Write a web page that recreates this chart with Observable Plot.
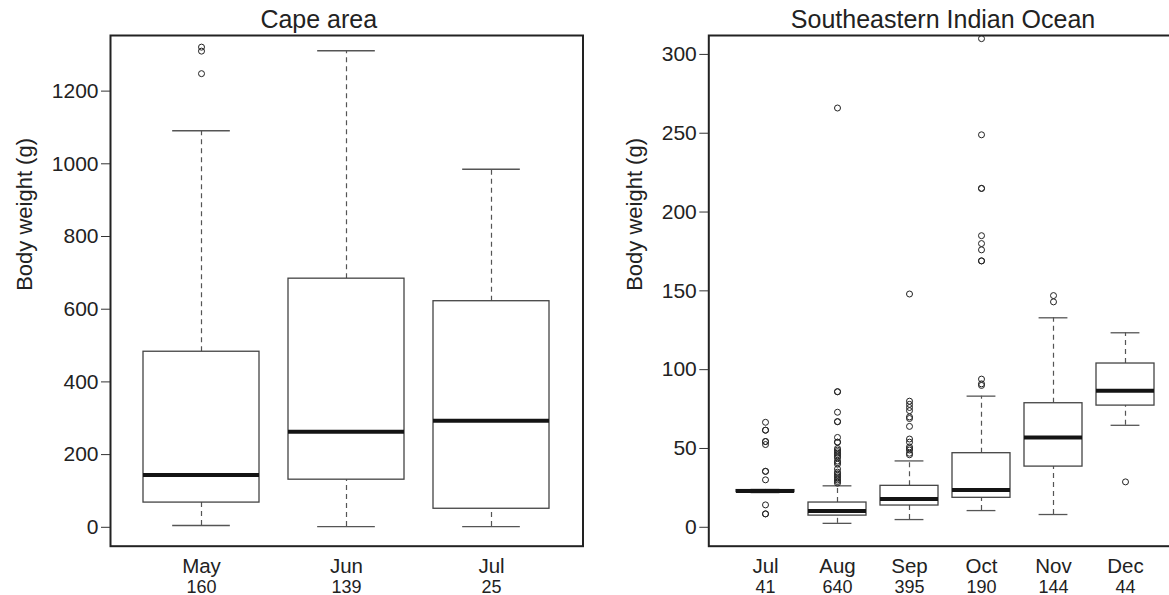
<!DOCTYPE html>
<html><head><meta charset="utf-8">
<script src="https://cdn.jsdelivr.net/npm/d3@7"></script>
<script src="https://cdn.jsdelivr.net/npm/@observablehq/plot@0.6"></script>
<style>
html,body{margin:0;padding:0;background:#fff;overflow:hidden;}
#wrap{position:relative;width:1169px;height:595px;overflow:hidden;background:#fff;}
#left,#right{position:absolute;top:0;height:595px;}
#left{left:0;width:636px;}
#right{left:590px;width:606px;}
#wrap svg{max-width:none !important;display:block;}
</style></head><body>
<div id="wrap"><div id="left"></div><div id="right"></div></div>
<script>
// ---- Cape area ----
const capeMonths = ["May", "Jun", "Jul"];
const capeCounts = [160, 139, 25];
const capeLow = [5, 2, 2];
const capeQ1 = [68, 131, 51];
const capeMedian = [144, 263, 293];
const capeQ3 = [483, 684, 622];
const capeHigh = [1091, 1311, 985];
const capeOutliers = [["May", 1321], ["May", 1310], ["May", 1248]];
const capeTicks = [0, 200, 400, 600, 800, 1000, 1200];

// ---- Southeastern Indian Ocean ----
const seMonths = ["Jul", "Aug", "Sep", "Oct", "Nov", "Dec"];
const seCounts = [41, 640, 395, 190, 144, 44];
const seLow = [22, 2.5, 4.9, 10.6, 8.1, 64.7];
const seQ1 = [22.3, 7.4, 13.8, 18.7, 38.5, 77.2];
const seMedian = [23, 10.4, 18, 23.7, 56.9, 86.6];
const seQ3 = [23.6, 15.7, 26.3, 47, 78.7, 103.9];
const seHigh = [24, 26.3, 42.1, 83.2, 132.9, 123.4];
const seOutliers = [
  ["Jul", 66.6], ["Jul", 61.6], ["Jul", 61.6], ["Jul", 54.4], ["Jul", 54.4], ["Jul", 52.5],
  ["Jul", 35.5], ["Jul", 35.5], ["Jul", 30.1], ["Jul", 14.2], ["Jul", 8.5], ["Jul", 8.5],
  ["Aug", 266], ["Aug", 86], ["Aug", 86], ["Aug", 73], ["Aug", 67], ["Aug", 67], ["Aug", 57],
  ["Aug", 54], ["Aug", 54], ["Aug", 50], ["Aug", 49], ["Aug", 48], ["Aug", 47], ["Aug", 46],
  ["Aug", 45], ["Aug", 44], ["Aug", 42], ["Aug", 41], ["Aug", 40], ["Aug", 37], ["Aug", 35],
  ["Aug", 34], ["Aug", 33], ["Aug", 32], ["Aug", 31], ["Aug", 30], ["Aug", 29], ["Aug", 28],
  ["Sep", 148], ["Sep", 80], ["Sep", 78], ["Sep", 76], ["Sep", 74], ["Sep", 70], ["Sep", 69],
  ["Sep", 64], ["Sep", 56], ["Sep", 54], ["Sep", 51], ["Sep", 50], ["Sep", 49], ["Sep", 47], ["Sep", 46],
  ["Oct", 310], ["Oct", 249], ["Oct", 215], ["Oct", 215], ["Oct", 185], ["Oct", 180], ["Oct", 176],
  ["Oct", 169], ["Oct", 169], ["Oct", 94], ["Oct", 91], ["Oct", 90],
  ["Nov", 147], ["Nov", 143],
  ["Dec", 28.8]
];
const seTicks = [0, 50, 100, 150, 200, 250, 300];

const yLabel = "Body weight (g)";
const FONT = "'Liberation Sans', Arial, Helvetica, sans-serif";

function panel(o) {
  const rows = o.months.map((m, i) => ({
    month: m, n: o.counts[i], low: o.low[i], q1: o.q1[i],
    median: o.median[i], q3: o.q3[i], high: o.high[i]
  }));
  const pts = o.outliers.map(([month, value]) => ({month, value}));
  const innerW = o.width - o.marginLeft - o.marginRight;
  const step = innerW / (o.months.length - 0.2 + 2 * o.paddingOuter);
  const staple = step * 0.8 / 4;
  const whisk = {stroke: "#555", strokeWidth: 1.2, strokeDasharray: "5,4"};
  const cap = {stroke: "#555", strokeWidth: 1.3, insetLeft: staple, insetRight: staple};
  return Plot.plot({
    width: o.width,
    height: 595,
    marginTop: 35,
    marginBottom: 49.3,
    marginLeft: o.marginLeft,
    marginRight: o.marginRight,
    style: {fontFamily: FONT, color: "#222", background: "transparent", maxWidth: "none", overflow: "visible"},
    x: {type: "band", domain: o.months, paddingInner: 0.2, paddingOuter: o.paddingOuter},
    y: {domain: o.yDomain},
    marks: [
      Plot.ruleX(rows, {x: "month", y1: "q3", y2: "high", ...whisk}),
      Plot.ruleX(rows, {x: "month", y1: "low", y2: "q1", ...whisk}),
      Plot.tickY(rows, {x: "month", y: "high", ...cap}),
      Plot.tickY(rows, {x: "month", y: "low", ...cap}),
      Plot.barY(rows, {x: "month", y1: "q1", y2: "q3", fill: "white", stroke: "#444", strokeWidth: 1.3}),
      Plot.tickY(rows, {x: "month", y: "median", stroke: "#141414", strokeWidth: 4}),
      Plot.dot(pts, {x: "month", y: "value", r: 3, stroke: "#222", strokeWidth: 1, fill: "none"}),
      Plot.frame({stroke: "#222", strokeWidth: 2}),
      Plot.axisY({ticks: o.ticks, tickFormat: d => String(d), tickSize: 9, tickPadding: 3, fontSize: 21, label: null, stroke: "#333"}),
      Plot.axisX({tickSize: 0, tickPadding: 12, fontSize: 20.5, label: null}),
      Plot.text(rows, {x: "month", text: d => String(d.n), frameAnchor: "bottom", lineAnchor: "bottom", dy: 46.3, fontSize: 18, fill: "#222"}),
      Plot.text([yLabel], {text: d => d, frameAnchor: "left", rotate: -90, dx: o.labelDx, fontSize: 22, fill: "#222"}),
      Plot.text([o.title], {text: d => d, frameAnchor: "top", lineAnchor: "bottom", dy: -7.5, dx: o.titleDx, fontSize: 25, fill: "#222"})
    ]
  });
}

document.getElementById("left").append(panel({
  months: capeMonths, counts: capeCounts, low: capeLow, q1: capeQ1, median: capeMedian,
  q3: capeQ3, high: capeHigh, outliers: capeOutliers, ticks: capeTicks,
  title: "Cape area", yDomain: [-52, 1353],
  width: 636, marginLeft: 110, marginRight: 53.5, paddingOuter: 0.22,
  labelDx: -85.5, titleDx: -28
}));

document.getElementById("right").append(panel({
  months: seMonths, counts: seCounts, low: seLow, q1: seQ1, median: seMedian,
  q3: seQ3, high: seHigh, outliers: seOutliers, ticks: seTicks,
  title: "Southeastern Indian Ocean", yDomain: [-12, 312],
  width: 606, marginLeft: 118.3, marginRight: 15.2, paddingOuter: 0.34,
  labelDx: -74.3, titleDx: -2
}));
</script>
</body></html>
